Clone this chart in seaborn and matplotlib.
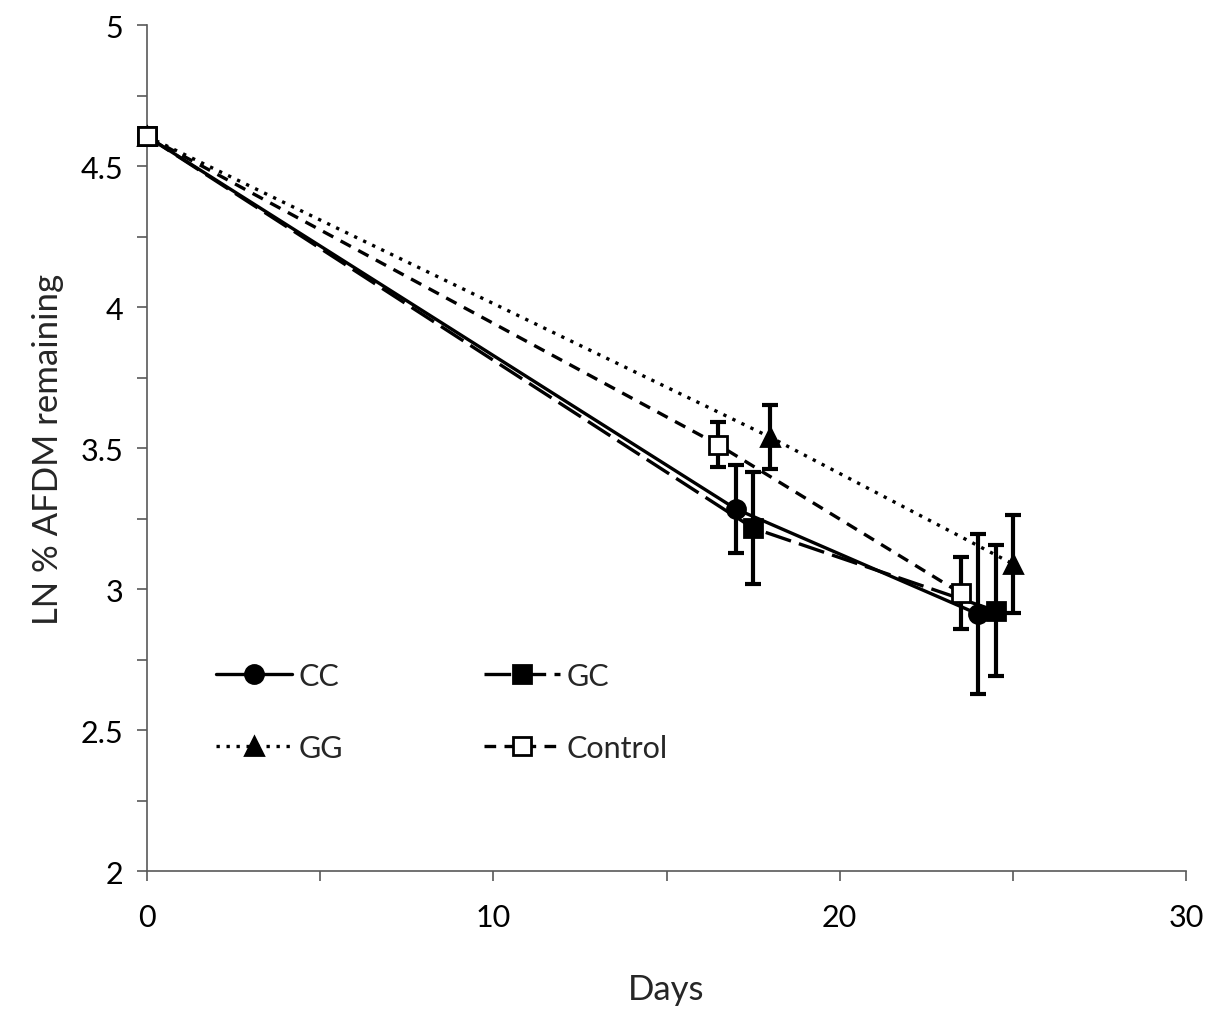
import matplotlib
matplotlib.use("Agg")
import matplotlib.pyplot as plt
import pandas as pd
import seaborn as sns

# data
days_cc = [0, 17, 24]
ln_cc = [4.605, 3.284, 2.911]
err_cc = [0, 0.156, 0.284]

days_gc = [0, 17.5, 24.5]
ln_gc = [4.605, 3.216, 2.923]
err_gc = [0, 0.198, 0.232]

days_gg = [0, 18, 25]
ln_gg = [4.605, 3.538, 3.089]
err_gg = [0, 0.113, 0.175]

days_ctrl = [0, 16.5, 23.5]
ln_ctrl = [4.605, 3.511, 2.985]
err_ctrl = [0, 0.080, 0.127]

sns.set_style("ticks")
plt.rcParams['font.family'] = ['Lato', 'DejaVu Sans']

fig = plt.figure(figsize=(12.11, 10.12), dpi=100)
ax = fig.add_axes([0.1214, 0.1383, 0.858, 0.836])

series = [
    ("CC", days_cc, ln_cc, err_cc, "o", "black", (None, None)),
    ("GC", days_gc, ln_gc, err_gc, "s", "black", (8, 2.5)),
    ("GG", days_gg, ln_gg, err_gg, "^", "black", (1, 2)),
    ("Control", days_ctrl, ln_ctrl, err_ctrl, "s", "white", (3.5, 2.5)),
]

for name, x, y, e, mk, fc, dash in series:
    df = pd.DataFrame({"Days": x, "LN": y})
    ax.errorbar(df["Days"][1:], df["LN"][1:], yerr=e[1:], fmt="none",
                ecolor="black", elinewidth=3, capsize=6, capthick=3, zorder=2)
    line_kw = {} if dash[0] is None else {"dashes": dash}
    sns.lineplot(data=df, x="Days", y="LN", ax=ax, color="black", lw=2.4,
                 marker=mk, markersize=13,
                 markerfacecolor=fc, markeredgecolor="black", markeredgewidth=2,
                 label=name, zorder=3, clip_on=False, **line_kw)

ax.set_xlim(0, 30)
ax.set_ylim(2, 5)
ax.set_xticks([0, 10, 20, 30])
ax.set_xticks([5, 15, 25], minor=True)
ax.set_yticks([2, 2.5, 3, 3.5, 4, 4.5, 5])
ax.set_yticklabels(["2", "2.5", "3", "3.5", "4", "4.5", "5"])
ax.set_yticks([2.25, 2.75, 3.25, 3.75, 4.25, 4.75], minor=True)

for side in ["top", "right"]:
    ax.spines[side].set_visible(False)
for side in ["left", "bottom"]:
    ax.spines[side].set_color("#595959")
    ax.spines[side].set_linewidth(1.2)

ax.tick_params(axis="both", which="both", direction="out", length=7,
               width=1.2, color="#595959", labelsize=22, labelcolor="black")
ax.tick_params(axis="y", pad=10)
ax.tick_params(axis="x", pad=16)

ax.set_xlabel("Days", fontsize=25, labelpad=30)
ax.set_ylabel("LN % AFDM remaining", fontsize=25, labelpad=12)

handles, labels = ax.get_legend_handles_labels()
order = [0, 2, 1, 3]
ax.legend([handles[i] for i in order], [labels[i] for i in order],
          loc="upper left", bbox_to_anchor=(0.04, 0.28), ncol=2, frameon=False,
          fontsize=22, handlelength=2.5, handletextpad=0.2, columnspacing=4.6,
          labelspacing=1.45)

fig.savefig("out.png", dpi=100)
